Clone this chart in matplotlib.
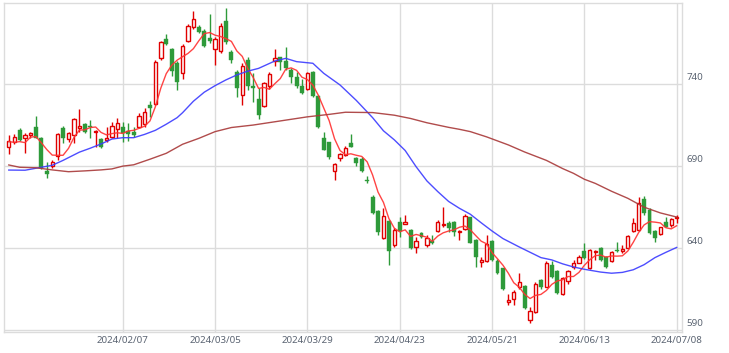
import matplotlib
matplotlib.use("Agg")
import matplotlib.pyplot as plt
from matplotlib.transforms import ScaledTranslation
import numpy as np

# ---- data ----
opens = [701.5, 704.5, 712.0, 707.3, 709.0, 713.6, 707.3, 687.1, 690.3, 696.4,
         713.0, 706.3, 709.0, 713.0, 715.5, 714.2, 711.0, 706.5, 705.9, 707.6,
         712.5, 714.0, 711.4, 711.0, 714.0, 715.5, 727.2, 728.0, 755.6, 767.4,
         761.3, 752.6, 746.5, 766.2, 774.5, 774.9, 772.3, 767.8, 761.1, 760.1,
         778.4, 759.7, 747.5, 733.3, 754.6, 738.8, 730.9, 726.6, 738.8, 754.2,
         756.3, 754.2, 748.5, 744.1, 738.8, 736.8, 747.5, 732.7, 707.0, 704.5,
         687.1, 694.8, 696.8, 704.3, 694.8, 694.1, 681.6, 671.4, 662.7, 646.1,
         656.6, 642.0, 655.8, 655.0, 651.1, 641.0, 649.1, 642.0, 644.6, 650.5,
         654.0, 655.2, 656.0, 649.7, 651.5, 658.8, 645.0, 631.5, 632.5, 644.4,
         632.5, 627.8, 607.1, 608.9, 616.2, 617.0, 596.4, 601.4, 620.7, 616.6,
         629.8, 626.2, 612.0, 619.8, 628.4, 631.3, 638.3, 627.8, 637.9, 640.0,
         634.5, 632.3, 639.0, 638.6, 640.4, 650.7, 651.1, 669.8, 663.3, 650.7,
         648.5, 655.8, 654.2, 658.2]
highs = [709.0, 709.4, 713.0, 710.0, 710.6, 720.5, 708.0, 692.3, 693.8, 710.0,
         714.7, 711.0, 719.1, 724.8, 716.1, 718.1, 712.0, 707.4, 714.0, 717.1,
         719.5, 717.1, 716.1, 714.0, 722.2, 725.2, 729.7, 754.6, 766.2, 770.2,
         761.7, 754.0, 764.2, 776.3, 784.4, 775.9, 773.5, 782.4, 768.8, 776.9,
         786.5, 760.7, 748.5, 753.0, 756.3, 746.5, 737.4, 741.4, 747.1, 761.1,
         756.7, 762.3, 749.6, 747.5, 742.9, 747.5, 747.9, 733.3, 711.0, 704.9,
         692.1, 698.2, 702.3, 709.6, 695.4, 695.4, 684.0, 672.4, 663.3, 664.3,
         657.2, 652.2, 659.3, 660.3, 651.6, 647.1, 650.1, 648.1, 648.1, 657.2,
         664.9, 656.8, 656.8, 651.1, 660.7, 659.3, 645.4, 634.9, 648.1, 645.0,
         633.3, 628.2, 612.2, 614.6, 625.2, 617.7, 604.5, 619.7, 621.1, 632.5,
         632.5, 626.8, 622.3, 626.8, 632.9, 635.9, 643.4, 639.4, 639.0, 641.0,
         635.3, 638.6, 644.0, 642.0, 648.1, 658.2, 671.4, 671.8, 664.3, 651.1,
         653.2, 658.8, 658.2, 660.3]
lows = [697.4, 703.3, 705.3, 697.8, 707.0, 707.0, 688.3, 683.0, 688.7, 693.8,
        703.9, 704.9, 703.9, 711.0, 710.0, 707.0, 701.9, 700.9, 704.9, 707.0,
        707.0, 704.9, 705.3, 708.0, 713.4, 714.0, 720.1, 727.2, 754.6, 763.8,
        745.1, 736.4, 743.1, 765.4, 773.5, 770.9, 762.7, 764.8, 751.6, 758.7,
        764.2, 752.6, 731.9, 727.2, 736.4, 729.3, 718.5, 726.2, 737.0, 751.0,
        748.5, 748.5, 740.8, 737.4, 733.9, 736.4, 731.9, 713.0, 699.8, 694.2,
        681.6, 693.4, 696.2, 701.5, 690.1, 686.6, 679.5, 660.9, 648.1, 645.5,
        629.8, 640.6, 647.1, 654.8, 639.8, 636.9, 646.1, 641.0, 642.6, 650.1,
        653.2, 650.1, 647.5, 645.0, 651.1, 643.0, 628.4, 628.4, 631.9, 632.5,
        624.4, 614.6, 605.5, 605.5, 615.2, 603.1, 594.7, 600.8, 615.2, 616.2,
        621.7, 612.2, 611.6, 618.3, 627.2, 630.8, 633.7, 627.2, 632.9, 632.5,
        627.8, 631.9, 637.9, 637.4, 640.0, 650.1, 650.5, 660.3, 648.7, 644.0,
        648.1, 652.8, 653.2, 655.6]
closes = [705.5, 707.6, 705.9, 709.0, 710.0, 707.3, 688.7, 685.4, 692.3, 709.4,
          707.0, 710.0, 718.5, 714.4, 710.6, 713.8, 711.6, 701.9, 707.0, 714.7,
          716.1, 710.0, 709.4, 709.0, 720.5, 722.8, 725.6, 753.2, 765.4, 764.6,
          748.1, 741.4, 763.4, 775.3, 779.4, 771.9, 763.4, 766.4, 767.4, 775.5,
          765.4, 754.6, 737.4, 751.2, 738.8, 737.8, 721.2, 740.4, 745.9, 755.6,
          753.6, 749.6, 744.1, 738.8, 734.3, 746.5, 732.7, 713.6, 699.8, 695.8,
          691.1, 697.2, 701.3, 701.9, 691.7, 687.3, 680.8, 661.3, 650.1, 659.9,
          638.6, 651.1, 650.5, 655.8, 640.0, 644.6, 647.1, 646.1, 643.0, 656.2,
          654.8, 652.6, 649.6, 650.7, 659.7, 643.4, 634.9, 632.9, 642.6, 632.9,
          624.8, 615.2, 608.5, 613.6, 619.3, 603.5, 602.0, 618.3, 616.2, 631.3,
          622.3, 612.6, 621.7, 626.2, 631.3, 634.5, 634.3, 638.9, 638.6, 632.9,
          628.4, 637.9, 638.2, 639.4, 647.5, 655.2, 667.8, 661.3, 649.1, 646.1,
          652.8, 653.2, 657.6, 658.8]

ma5 = [704.9, 704.5, 704.9, 704.3, 707.6, 708.0, 704.2, 700.1, 696.7, 696.6,
       696.6, 700.8, 707.4, 711.9, 712.1, 713.5, 713.8, 710.5, 709.0, 709.8,
       710.3, 709.9, 711.4, 711.8, 713.0, 714.3, 717.5, 726.2, 737.5, 746.3,
       751.4, 754.5, 756.6, 758.6, 761.5, 766.3, 770.7, 771.3, 769.7, 768.9,
       767.6, 765.9, 760.1, 756.8, 749.5, 744.0, 737.3, 737.9, 736.8, 740.2,
       743.3, 749.0, 749.8, 748.3, 744.1, 742.7, 739.3, 733.2, 725.4, 717.7,
       706.6, 699.5, 697.0, 697.5, 696.6, 695.9, 692.6, 684.6, 674.2, 667.9,
       658.1, 652.2, 650.0, 651.2, 647.2, 648.4, 647.6, 646.7, 644.2, 647.4,
       649.4, 650.5, 651.2, 652.8, 653.5, 651.2, 647.7, 644.3, 642.7, 637.3,
       633.6, 629.7, 624.8, 619.0, 616.3, 612.0, 609.4, 611.3, 611.9, 614.3,
       618.0, 620.1, 620.8, 622.8, 622.8, 625.3, 629.6, 633.0, 635.5, 635.8,
       634.6, 635.3, 635.2, 635.4, 638.3, 643.6, 649.6, 654.2, 656.2, 655.9,
       655.4, 652.5, 651.8, 653.7]

ma25_idx = [0, 3, 5, 8, 10, 13, 15, 17, 19, 21, 23, 25, 27, 29, 31, 32, 34, 36,
            38, 40, 42, 44, 46, 49, 51, 53, 56, 58, 61, 64, 67, 69, 71, 73, 75,
            77, 79, 81, 83, 85, 87, 89, 91, 94, 98, 100, 102, 104, 106, 109,
            111, 113, 115, 117, 119, 121, 123]
ma25_val = [687.6, 687.5, 688.7, 690.5, 693.5, 698.5, 700.9, 703.5, 706.5, 707.3,
            707.3, 709.3, 711.8, 715.5, 719.5, 722.5, 729.5, 735.0, 739.0, 742.5,
            745.5, 747.8, 749.5, 754.0, 755.6, 753.6, 752.6, 746.5, 739.4, 730.0,
            719.5, 711.5, 706.0, 699.5, 689.7, 681.0, 674.5, 668.5, 664.3, 660.7,
            655.5, 650.5, 645.9, 640.8, 634.3, 632.9, 630.5, 628.6, 627.2, 625.5,
            624.8, 625.3, 626.9, 630.0, 634.3, 637.5, 640.5]

ma75_idx = [0, 2, 5, 8, 11, 14, 17, 19, 21, 23, 26, 29, 32, 35, 38, 41, 45, 50,
            55, 59, 62, 67, 71, 74, 77, 81, 83, 85, 88, 92, 95, 99, 102, 104,
            106, 108, 111, 114, 117, 120, 123]
ma75_val = [690.7, 689.3, 689.0, 687.7, 686.6, 687.1, 687.7, 688.3, 690.0, 690.8,
            694.2, 697.8, 703.3, 706.9, 711.0, 713.5, 715.0, 717.5, 720.0, 721.5,
            722.8, 722.6, 721.0, 719.0, 716.4, 713.6, 712.4, 711.0, 707.8, 702.9,
            698.6, 693.5, 688.5, 685.6, 682.0, 679.5, 674.7, 670.4, 665.0, 661.5,
            659.0]

xtick_idx = [21, 38, 55, 72, 89, 106, 123]
xtick_labels = ["2024/02/07", "2024/03/05", "2024/03/29", "2024/04/23",
                "2024/05/21", "2024/06/13", "2024/07/08"]
ytick_vals = [590, 640, 690, 740]

# ---- style ----
UP = "#e00000"
DOWN = "#2e9a3a"
GRID = "#dcdcdc"
LABEL = "#5b6472"

plt.rcParams['font.family'] = ['Noto Sans', 'DejaVu Sans']

fig = plt.figure(figsize=(7.29, 3.53), dpi=100)
ax = fig.add_axes([4 / 729, (353 - 331.7) / 353, 678 / 729, 328.7 / 353])

o = np.array(opens); h = np.array(highs); l = np.array(lows); c = np.array(closes)
x = np.arange(len(o))
up = c >= o

ax.vlines(x[up], l[up], h[up], color=UP, linewidth=1.0, zorder=2)
ax.vlines(x[~up], l[~up], h[~up], color=DOWN, linewidth=1.0, zorder=2)

bottom = np.minimum(o, c)
height = np.maximum(np.abs(c - o), 0.6)
ax.bar(x[up], height[up], bottom=bottom[up], width=0.62, facecolor="white",
       edgecolor=UP, linewidth=1.0, zorder=3)
ax.bar(x[~up], height[~up], bottom=bottom[~up], width=0.72, facecolor=DOWN,
       edgecolor=DOWN, linewidth=0.3, zorder=3)

ax.plot(x, ma5, color="#ff3030", linewidth=1.0, alpha=0.9, zorder=4)
ax.plot(ma25_idx, ma25_val, color="#3a3aff", linewidth=1.0, alpha=0.9, zorder=4)
ax.plot(ma75_idx, ma75_val, color="#a83838", linewidth=1.0, alpha=0.9, zorder=4)

ax.set_xlim(-0.88, 123.98)
ax.set_ylim(589.2, 789.3)

ax.set_xticks(xtick_idx)
ax.set_xticklabels(xtick_labels)
ax.set_yticks(ytick_vals)
ax.set_yticklabels([str(v) for v in ytick_vals])
ax.yaxis.tick_right()
ax.tick_params(axis='both', length=0, labelsize=7, labelcolor=LABEL)
ax.tick_params(axis='x', pad=3)
ax.tick_params(axis='y', pad=3)
for lab in ax.get_yticklabels():
    lab.set_verticalalignment('bottom')
    lab.set_transform(lab.get_transform() + ScaledTranslation(0, 2 / 100, fig.dpi_scale_trans))

ax.grid(True, color=GRID, linewidth=1.0, zorder=0)
ax.set_axisbelow(True)
for s in ax.spines.values():
    s.set_color(GRID)
    s.set_linewidth(1.0)

fig.savefig("out.png", dpi=100, facecolor="white")
